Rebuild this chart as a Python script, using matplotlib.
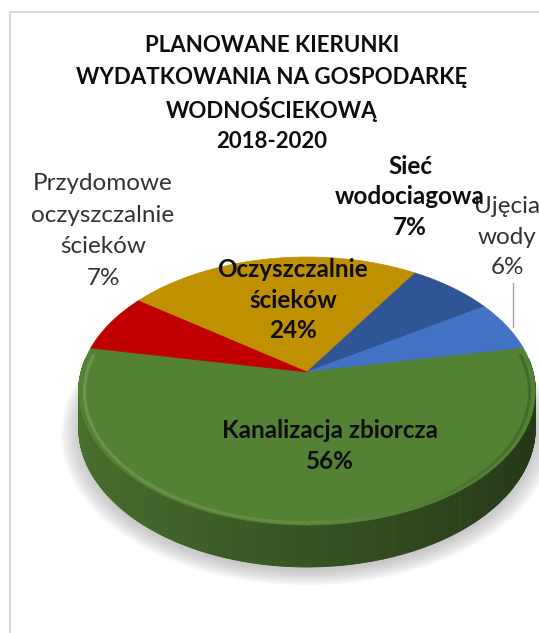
import numpy as np
import matplotlib.pyplot as plt
from matplotlib.patches import Polygon
from matplotlib.collections import PolyCollection, LineCollection
from matplotlib.colors import to_rgb

plt.rcParams['font.family'] = ['Lato', 'DejaVu Sans']

# slices in clockwise drawing order
categories = ["Oczyszczalnie ścieków", "Sieć wodociagowa", "Ujęcia wody",
              "Kanalizacja zbiorcza", "Przydomowe oczyszczalnie ścieków"]
values = [24, 7, 6, 56, 7]
colors = ["#BF9000", "#2F5597", "#4472C4", "#548235", "#C00000"]
title_lines = ["PLANOWANE KIERUNKI", "WYDATKOWANIA NA GOSPODARKĘ",
               "WODNOŚCIEKOWĄ", "2018-2020"]

start_deg = -54.0  # first slice start, clockwise from 12 o'clock

# pie geometry (pixel space), simple perspective
CX, CY = 307, 372
A, B, K, T = 226, 131.3, 0.142, 36


def proj(theta, z=0.0, r=1.0):
    u, w = r * np.sin(theta), r * np.cos(theta)
    s = 1.0 / (1.0 + K * w)
    return CX + A * u * s, CY - B * w * s + T * s * z


fig = plt.figure(figsize=(5.39, 6.33), dpi=100)
ax = fig.add_axes([0, 0, 1, 1])
ax.set_xlim(0, 539)
ax.set_ylim(633, 0)
ax.axis('off')

# chart border (only left/top visible in crop)
ax.plot([10, 10, 539], [633, 12, 12], color='#d9d9d9', lw=1.5, zorder=1)

vals = np.array(values, dtype=float)
bounds = np.radians(start_deg + 360 * np.concatenate([[0], np.cumsum(vals)]) / vals.sum())

# soft shadow under the pie
full = np.linspace(0, 2 * np.pi, 300)
for i, r in enumerate(np.linspace(1.075, 1.0, 10)):
    x, y = proj(full, z=1.0, r=r)
    ax.add_patch(Polygon(np.column_stack([x, y + 4]), closed=True,
                         facecolor='#a0a0a0', edgecolor='none', alpha=0.07, zorder=2))

# side walls
polys, pcols = [], []
for i in range(len(vals)):
    th = np.linspace(bounds[i], bounds[i + 1], max(int(np.degrees(bounds[i + 1] - bounds[i]) * 2), 4))
    base = np.array(to_rgb(colors[i]))
    for a0, a1 in zip(th[:-1], th[1:]):
        if np.cos((a0 + a1) / 2) > 0.1:
            continue
        x0, y0 = proj(a0)
        x1, y1 = proj(a1)
        x2, y2 = proj(a1, 1.0)
        x3, y3 = proj(a0, 1.0)
        polys.append([(x0, y0), (x1, y1), (x2, y2), (x3, y3)])
        f = 0.64 - 0.22 * np.sin((a0 + a1) / 2)
        pcols.append(np.clip(base * f, 0, 1))
ax.add_collection(PolyCollection(polys, facecolors=pcols, edgecolors=pcols,
                                 linewidths=0.6, zorder=3))

# top face
for i in range(len(vals)):
    th = np.linspace(bounds[i], bounds[i + 1], 120)
    x, y = proj(th)
    pts = np.column_stack([np.r_[CX, x], np.r_[CY, y]])
    ax.add_patch(Polygon(pts, closed=True, facecolor=colors[i],
                         edgecolor=colors[i], lw=0.5, zorder=4))

# rounded rim: highlight on the front edge, darker on the right
segs, lcols = [], []
for i in range(len(vals)):
    th = np.linspace(bounds[i], bounds[i + 1], 200)
    base = np.array(to_rgb(colors[i]))
    for a0, a1 in zip(th[:-1], th[1:]):
        am = (a0 + a1) / 2
        if np.cos(am) > 0.15:
            continue
        xa, ya = proj(a0, r=0.975)
        xb, yb = proj(a1, r=0.975)
        segs.append([(xa, ya + 2), (xb, yb + 2)])
        light = 0.5 - 0.5 * np.sin(am)
        c = base + (1 - base) * 0.15 * light
        c = c * (1 - 0.2 * max(np.sin(am), 0))
        lcols.append(np.clip(c, 0, 1))
ax.add_collection(LineCollection(segs, colors=lcols, linewidths=2.2, zorder=5))

# title
for j, line in enumerate(title_lines):
    ax.text(272, 46 + 32 * j, line, ha='center', va='center', fontsize=16,
            fontweight='bold', color='#0d0d0d', zorder=6)

# data labels
pct = [f"{v:.0f}%" for v in vals]
ax.text(103, 231, "Przydomowe\noczyszczalnie\nścieków\n" + pct[4], ha='center',
        va='center', fontsize=17.5, color='#333333', linespacing=1.62, zorder=6)
ax.text(507, 237, "Ujęcia\nwody\n" + pct[2], ha='center', va='center',
        fontsize=17.5, color='#333333', linespacing=1.55, zorder=6)
ax.text(410, 197, "Sieć\nwodociagowa\n" + pct[1], ha='center', va='center',
        fontsize=17.5, fontweight='bold', color='#0d0d0d', linespacing=1.4, zorder=7)
ax.text(293, 300, "Oczyszczalnie\nścieków\n" + pct[0], ha='center', va='center',
        fontsize=17.5, fontweight='bold', color='#0d0d0d', linespacing=1.4, zorder=7)
ax.text(330, 446, "Kanalizacja zbiorcza\n" + pct[3], ha='center', va='center',
        fontsize=17.5, fontweight='bold', color='#0d0d0d', linespacing=1.45, zorder=7)

# leader line for the small slice
ax.plot([513, 513], [283, 327], color='#a6a6a6', lw=1, zorder=6)

fig.savefig("out.png", dpi=100)
